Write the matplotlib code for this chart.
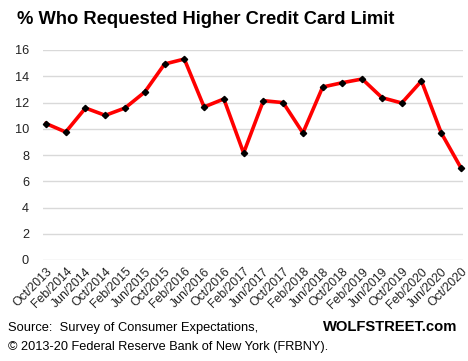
import matplotlib
matplotlib.use("Agg")
import matplotlib.pyplot as plt

labels = ["Oct/2013", "Feb/2014", "Jun/2014", "Oct/2014", "Feb/2015", "Jun/2015",
          "Oct/2015", "Feb/2016", "Jun/2016", "Oct/2016", "Feb/2017", "Jun/2017",
          "Oct/2017", "Feb/2018", "Jun/2018", "Oct/2018", "Feb/2019", "Jun/2019",
          "Oct/2019", "Feb/2020", "Jun/2020", "Oct/2020"]
values = [10.4, 9.75, 11.58, 11.02, 11.58, 12.8, 14.93, 15.31, 11.66, 12.27, 8.15, 12.14,
          11.99, 9.68, 13.18, 13.51, 13.79, 12.37, 11.96, 13.64, 9.68, 7.01]
yticks = [0, 2, 4, 6, 8, 10, 12, 14, 16]

W, H = 468, 361
fig = plt.figure(figsize=(W / 100, H / 100), dpi=100)
ax = fig.add_axes([43 / W, 1 - 260 / H, (463 - 43) / W, (260 - 50) / H])

x = list(range(len(values)))
ax.plot(x, values, color="#ff0000", lw=2.6, marker="D", markersize=3.2,
        markerfacecolor="black", markeredgecolor="black", zorder=3, clip_on=False)

ax.set_ylim(0, 16)
ax.set_xlim(-0.15, len(values) - 1 + 0.1)
ax.set_yticks(yticks)
ax.set_yticklabels([str(t) for t in yticks], fontsize=9.2, family="Liberation Sans", color="#222222")
ax.set_xticks(x)
ax.set_xticklabels(labels, rotation=45, ha="right", rotation_mode="anchor",
                   fontsize=8.8, family="Liberation Sans", color="#222222")
ax.tick_params(axis="both", length=0)
ax.tick_params(axis="y", pad=10)
ax.tick_params(axis="x", pad=4)
ax.grid(axis="y", color="#d9d9d9", lw=1)
ax.set_axisbelow(True)
for s in ax.spines.values():
    s.set_visible(False)

fig.text(17 / W, 1 - 20 / H, "% Who Requested Higher Credit Card Limit", fontsize=13.2,
         fontweight="bold", family="Liberation Sans", va="center", ha="left")
fig.text(8 / W, 1 - 328 / H, "Source:  Survey of Consumer Expectations,", fontsize=9.3,
         family="Liberation Sans", va="center", ha="left")
fig.text(8 / W, 1 - 347 / H, "\u00a9 2013-20 Federal Reserve Bank of New York (FRBNY).",
         fontsize=9.2, family="Liberation Sans", va="center", ha="left")
fig.text(457 / W, 1 - 327 / H, "WOLFSTREET.com", fontsize=10.6, fontweight="bold",
         family="Liberation Sans", va="center", ha="right")

fig.savefig("out.png", dpi=100, facecolor="white")
